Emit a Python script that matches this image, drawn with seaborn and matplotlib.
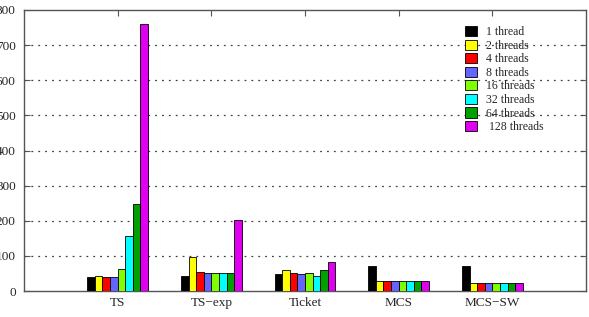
import numpy as np
import pandas as pd
import matplotlib
matplotlib.use("Agg")
import matplotlib.pyplot as plt
import seaborn as sns

categories = ["TS", "TS\u2212exp", "Ticket", "MCS", "MCS\u2212SW"]
series_labels = ["1 thread", "2 threads", "4 threads", "8 threads",
                 "16 threads", "32 threads", "64 threads", " 128 threads"]
t1 = [40, 43, 49, 72, 72]
t2 = [43, 98, 60, 28, 24]
t4 = [39, 53, 52, 28, 24]
t8 = [39, 50, 48, 28, 24]
t16 = [62, 50, 51, 28, 24]
t32 = [156, 50, 43, 28, 24]
t64 = [247, 50, 60, 28, 24]
t128 = [760, 201, 83, 28, 24]
series_values = [t1, t2, t4, t8, t16, t32, t64, t128]
yticks = [0, 100, 200, 300, 400, 500, 600, 700, 800]
colors = ["#000000", "#FFFF00", "#FF0000", "#6464FF",
          "#80FF00", "#00FFFF", "#00A000", "#E000F0"]

rows = []
for lab, vals in zip(series_labels, series_values):
    for c, v in zip(categories, vals):
        rows.append({"cat": c, "series": lab, "value": v})
df = pd.DataFrame(rows)

sns.set_style("white")
plt.rcParams["font.family"] = ["Liberation Serif", "DejaVu Serif"]
plt.rcParams["font.size"] = 8

W, H = 589, 317
fig = plt.figure(figsize=(W / 100, H / 100), dpi=100)
ax = fig.add_axes([24 / W, 1 - 291 / H, (586 - 24) / W, (291 - 10) / H])

sns.barplot(data=df, x="cat", y="value", hue="series", order=categories,
            hue_order=series_labels, palette=colors, width=0.65,
            edgecolor="black", linewidth=0.6, saturation=1, ax=ax,
            errorbar=None, zorder=3)

ax.set_xlim(-1, 5)
ax.set_ylim(0, 800)
ax.set_yticks(yticks)
ax.set_yticklabels([str(v) for v in yticks])
ax.set_xlabel("")
ax.set_ylabel("")
for y in yticks[1:-1]:
    ax.axhline(y, color="#444444", linestyle=(0, (1.5, 4)), linewidth=0.9, zorder=1)

for s in ax.spines.values():
    s.set_color("#555555")
    s.set_linewidth(1.0)
    s.set_visible(True)
ax.tick_params(axis="both", direction="in", length=4, width=0.8, color="#555555",
               top=True, right=True, bottom=True, left=True, labelsize=9.5)
ax.tick_params(axis="x", pad=4)
ax.tick_params(axis="y", pad=6)

handles, labels = ax.get_legend_handles_labels()
leg = ax.legend(handles, labels, loc="upper left",
                bbox_to_anchor=(465 / W, 1 - 26 / H), bbox_transform=fig.transFigure,
                frameon=False, borderpad=0, borderaxespad=0, handlelength=1.0,
                handleheight=0.95, handletextpad=0.8, labelspacing=0.12, fontsize=8.5)

fig.savefig("out.png", dpi=100)
